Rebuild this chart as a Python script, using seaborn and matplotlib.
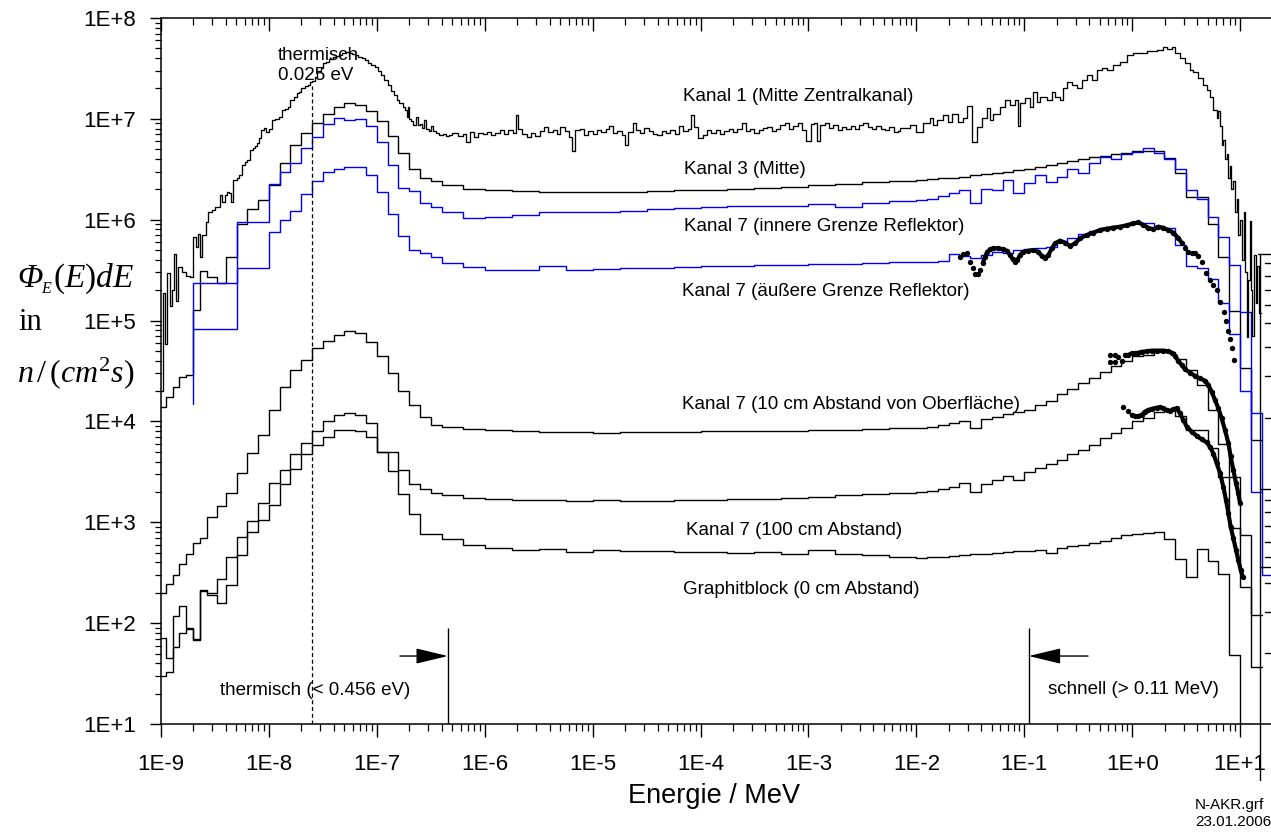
import numpy as np
import matplotlib
matplotlib.use("Agg")
import matplotlib.pyplot as plt
import seaborn as sns
from matplotlib.ticker import LogLocator, NullFormatter
from matplotlib.lines import Line2D

NA = float("nan")

# ---------------- data ----------------
# common group structure (log10 of energy in MeV), 80 groups
grp_log10_edges = [
    -9.00, -8.95, -8.89, -8.83, -8.77, -8.70, -8.64, -8.57, -8.48, -8.40,
    -8.30, -8.20, -8.10, -8.00, -7.90, -7.80, -7.70, -7.60, -7.50, -7.40,
    -7.30, -7.20, -7.10, -7.00, -6.90, -6.80, -6.70, -6.60, -6.50, -6.40,
    -6.20, -6.00, -5.75, -5.50, -5.25, -5.00, -4.75, -4.50, -4.25, -4.00,
    -3.75, -3.50, -3.25, -3.00, -2.75, -2.50, -2.25, -2.00, -1.90, -1.80,
    -1.70, -1.60, -1.50, -1.40, -1.30, -1.20, -1.10, -1.00, -0.90, -0.80,
    -0.70, -0.60, -0.50, -0.40, -0.30, -0.20, -0.10, 0.00, 0.10, 0.20,
    0.30, 0.40, 0.50, 0.60, 0.70, 0.80, 0.90, 1.00, 1.10, 1.20,
    1.30]

kanal3 = [
    1.4e4, 1.75e4, 2.2e4, 2.75e4, 2.9e4, 1.27e5, 3.1e5, 2.7e5, 2.37e5, 4.3e5,
    9.1e5, 1.29e6, 1.58e6, 2.2e6, 3.67e6, 5.5e6, 7.3e6, 9.2e6, 1.13e7, 1.32e7,
    1.42e7, 1.38e7, 1.2e7, 9.6e6, 6.8e6, 4.55e6, 3.2e6, 2.6e6, 2.4e6, 2.2e6,
    2.03e6, 1.95e6, 1.91e6, 1.89e6, 1.88e6, 1.88e6, 1.9e6, 1.92e6, 1.95e6, 1.98e6,
    2.02e6, 2.07e6, 2.13e6, 2.2e6, 2.28e6, 2.35e6, 2.42e6, 2.47e6, 2.52e6, 2.57e6,
    2.62e6, 2.68e6, 2.75e6, 2.82e6, 2.9e6, 3.0e6, 3.1e6, 3.2e6, 3.35e6, 3.5e6,
    3.65e6, 3.85e6, 4.0e6, 4.15e6, 4.3e6, 4.45e6, 4.6e6, 4.75e6, 4.85e6, 4.8e6,
    4.06e6, 2.88e6, 1.69e6, 1.69e6, 9.1e5, 4.3e5, 1.25e5, 3.4e4, 6.5e3, NA]

kanal7_innen_start = 8.2e4
kanal7_innen = [
    NA, NA, NA, NA, NA, 2.37e5, 2.37e5, 2.37e5, 2.37e5, 2.37e5,
    9.4e5, 9.4e5, 9.4e5, 2.28e6, 3.0e6, 3.67e6, 5.1e6, 6.6e6, 8.8e6, 1.03e7,
    9.8e6, 1.0e7, 8.4e6, 5.9e6, 3.47e6, 2.04e6, 1.94e6, 1.45e6, 1.35e6, 1.18e6,
    1.05e6, 1.07e6, 1.12e6, 1.18e6, 1.18e6, 1.2e6, 1.23e6, 1.29e6, 1.3e6, 1.35e6,
    1.37e6, 1.37e6, 1.38e6, 1.43e6, 1.33e6, 1.46e6, 1.55e6, 1.58e6, 1.6e6, 1.72e6,
    1.85e6, 1.97e6, 1.48e6, 2.0e6, 1.97e6, 2.48e6, 1.85e6, 2.33e6, 2.77e6, 2.38e6,
    2.67e6, 3.2e6, 2.93e6, 3.68e6, 4.17e6, 3.98e6, 4.5e6, 4.73e6, 5.1e6, 4.58e6,
    4.0e6, 3.16e6, 1.95e6, 1.6e6, 1.07e6, 6.8e5, 3.55e5, 1.23e5, 1.2e4, 3.0e2]

kanal7_aussen_start = 1.5e4
kanal7_aussen = [
    NA, NA, NA, NA, NA, 8.2e4, 8.2e4, 8.2e4, 8.2e4, 8.2e4,
    3.3e5, 3.3e5, 3.3e5, 7.6e5, 1.0e6, 1.22e6, 1.78e6, 2.4e6, 3.0e6, 3.16e6,
    3.3e6, 3.35e6, 2.77e6, 1.9e6, 1.14e6, 6.9e5, 5.0e5, 4.65e5, 4.3e5, 3.7e5,
    3.4e5, 3.15e5, 3.2e5, 3.5e5, 3.2e5, 3.25e5, 3.3e5, 3.35e5, 3.4e5, 3.47e5,
    3.5e5, 3.55e5, 3.55e5, 3.6e5, 3.65e5, 3.75e5, 3.85e5, 3.84e5, 3.84e5, 3.9e5,
    4.57e5, 4.4e5, 4.2e5, 4.5e5, 4.8e5, 4.65e5, 5.0e5, 5.1e5, 5.2e5, 5.4e5,
    6.0e5, 6.6e5, 7.2e5, 7.8e5, 8.3e5, 8.6e5, 8.9e5, 9.3e5, 9.3e5, 8.6e5,
    8.2e5, 5.6e5, 3.47e5, 3.3e5, 2.57e5, 1.5e5, 7.4e4, 2.0e4, 2.0e3, NA]

kanal7_10cm = [
    200, 245, 300, 390, 490, 630, 700, 1120, 1450, 1970,
    3060, 4900, 7350, 1.3e4, 2.2e4, 3.24e4, 4.1e4, 5.3e4, 6.3e4, 7.2e4,
    7.8e4, 7.5e4, 6.2e4, 4.45e4, 3.0e4, 2.0e4, 1.45e4, 1.1e4, 9.3e3, 8.8e3,
    8.4e3, 8.2e3, 8.0e3, 7.9e3, 7.8e3, 7.75e3, 7.8e3, 7.85e3, 7.9e3, 7.95e3,
    8.0e3, 8.05e3, 8.1e3, 8.2e3, 8.3e3, 8.4e3, 8.6e3, 8.7e3, 8.9e3, 9.2e3,
    9.6e3, 1.0e4, 8.6e3, 1.05e4, 1.1e4, 1.18e4, 1.25e4, 1.3e4, 1.45e4, 1.6e4,
    1.85e4, 2.08e4, 2.4e4, 2.7e4, 3.1e4, 3.56e4, 4.0e4, 4.46e4, 4.6e4, 4.9e4,
    4.9e4, 4.2e4, 3.2e4, 2.3e4, 1.3e4, 6.0e3, 2.8e3, 740, 120, NA]

kanal7_100cm = [
    71, 45, 117, 148, 90, 68, 214, 200, 275, 450,
    720, 1040, 1560, 2450, 3300, 4800, 6150, 8100, 1.0e4, 1.15e4,
    1.22e4, 1.15e4, 9.7e3, 5.0e3, 5.0e3, 3.3e3, 2.4e3, 2.13e3, 1.95e3, 1.85e3,
    1.75e3, 1.7e3, 1.68e3, 1.65e3, 1.64e3, 1.66e3, 1.62e3, 1.63e3, 1.65e3, 1.67e3,
    1.7e3, 1.72e3, 1.76e3, 1.8e3, 1.85e3, 1.9e3, 1.97e3, 2.0e3, 2.05e3, 2.12e3,
    2.23e3, 2.48e3, 2.0e3, 2.4e3, 2.63e3, 2.9e3, 2.63e3, 3.18e3, 3.43e3, 3.8e3,
    4.1e3, 4.75e3, 5.2e3, 5.85e3, 6.8e3, 7.75e3, 8.6e3, 1.02e4, 1.08e4, 1.25e4,
    1.3e4, 1.12e4, 8.2e3, 8.2e3, 5.4e3, 2.8e3, 870, 230, 37, NA]

graphitblock = [
    30, 33, 58, 80, 88, 70, 210, 190, 160, 240,
    470, 800, 1050, 1500, 2400, 3400, 4800, 5800, 7000, 8300,
    8300, 8000, 7000, 5000, 3200, 1900, 1200, 760, 760, 680,
    600, 560, 530, 540, 510, 530, 520, 515, 510, 505,
    500, 505, 490, 530, 490, 470, 455, 445, 450, 455,
    460, 470, 480, 490, 500, 505, 515, 525, 530, 495,
    560, 580, 600, 620, 650, 700, 740, 770, 790, 800,
    690, 430, 290, 540, 415, 310, 48, 10, NA, NA]

# Kanal 1: fine group spectrum, (log10 E lower edge, flux)
kanal1_points = [
    (-9.00, 2.0e4), (-8.98, 1.86e5), (-8.96, 5.9e4), (-8.94, 2.95e5), (-8.92, 1.38e5),
    (-8.90, 2.0e5), (-8.88, 4.6e5), (-8.86, 1.58e5), (-8.84, 3.4e5), (-8.81, 3.0e5),
    (-8.77, 2.75e5), (-8.73, 2.7e5),
    (-8.70, 6.8e5), (-8.675, 5.4e5), (-8.655, 7.2e5), (-8.64, 4.3e5), (-8.62, 7.0e5),
    (-8.585, 9.5e5), (-8.56, 1.2e6), (-8.53, 1.25e6), (-8.50, 1.35e6), (-8.47, 1.35e6),
    (-8.45, 1.76e6), (-8.435, 1.5e6), (-8.41, 1.76e6), (-8.39, 1.9e6), (-8.37, 1.85e6),
    (-8.355, 1.5e6), (-8.33, 2.48e6), (-8.30, 2.6e6), (-8.28, 2.77e6), (-8.25, 3.47e6),
    (-8.22, 3.76e6), (-8.20, 3.9e6), (-8.175, 4.9e6), (-8.15, 5.2e6), (-8.13, 5.4e6),
    (-8.11, 5.7e6), (-8.09, 6.4e6), (-8.07, 7.75e6), (-8.05, 8.06e6), (-8.03, 7.46e6),
    (-8.00, 8.0e6), (-7.97, 9.8e6), (-7.94, 1.0e7), (-7.91, 1.05e7), (-7.88, 1.22e7),
    (-7.85, 1.25e7), (-7.82, 1.32e7), (-7.80, 1.54e7), (-7.77, 1.65e7), (-7.74, 1.79e7),
    (-7.72, 1.85e7), (-7.70, 2.0e7), (-7.67, 2.1e7), (-7.64, 2.17e7), (-7.62, 2.34e7),
    (-7.60, 2.4e7), (-7.57, 2.6e7),
    (-7.55, 2.95e7), (-7.52, 3.2e7), (-7.50, 3.55e7), (-7.47, 3.7e7), (-7.44, 3.9e7),
    (-7.41, 4.07e7), (-7.38, 4.2e7), (-7.35, 4.3e7), (-7.32, 4.5e7), (-7.29, 4.64e7),
    (-7.26, 4.5e7), (-7.23, 4.4e7), (-7.20, 4.3e7), (-7.17, 4.14e7), (-7.14, 4.0e7),
    (-7.11, 3.8e7), (-7.08, 3.55e7), (-7.05, 3.45e7), (-7.02, 3.29e7), (-6.99, 3.0e7),
    (-6.96, 2.72e7), (-6.93, 2.45e7), (-6.90, 2.17e7), (-6.87, 1.9e7), (-6.84, 1.73e7),
    (-6.81, 1.55e7), (-6.79, 1.43e7), (-6.76, 1.32e7), (-6.74, 1.22e7), (-6.72, 1.05e7),
    (-6.71, 1.3e7), (-6.70, 1.0e7), (-6.68, 9.5e6), (-6.66, 8.7e6), (-6.64, 1.05e7),
    (-6.62, 8.7e6), (-6.60, 8.8e6), (-6.58, 8.2e6), (-6.56, 9.8e6), (-6.54, 8.0e6),
    (-6.52, 7.5e6), (-6.50, 8.5e6), (-6.48, 7.6e6), (-6.45, 7.3e6), (-6.42, 6.9e6),
    (-6.39, 7.0e6), (-6.36, 6.7e6), (-6.33, 6.9e6),
    (-6.30, 7.2e6), (-6.25, 6.7e6), (-6.20, 7.1e6), (-6.17, 5.95e6), (-6.14, 7.4e6),
    (-6.10, 6.6e6), (-6.06, 7.3e6), (-6.02, 7.0e6), (-5.98, 7.4e6), (-5.94, 6.9e6),
    (-5.90, 7.3e6), (-5.86, 7.7e6), (-5.82, 7.1e6), (-5.78, 7.8e6), (-5.74, 7.3e6),
    (-5.71, 1.1e7), (-5.69, 8.0e6), (-5.65, 7.0e6), (-5.61, 6.6e6), (-5.57, 7.3e6),
    (-5.53, 6.8e6), (-5.49, 7.6e6), (-5.45, 8.3e6), (-5.41, 7.4e6), (-5.37, 7.8e6),
    (-5.33, 7.0e6), (-5.30, 8.3e6), (-5.26, 7.6e6), (-5.22, 6.6e6), (-5.19, 4.8e6),
    (-5.16, 7.7e6), (-5.12, 8.0e6), (-5.08, 6.9e6), (-5.04, 7.5e6), (-5.00, 7.0e6),
    (-4.96, 7.8e6), (-4.92, 7.4e6), (-4.88, 8.0e6), (-4.85, 8.4e6), (-4.81, 7.2e6),
    (-4.77, 7.6e6), (-4.73, 6.9e6), (-4.70, 5.5e6), (-4.67, 7.4e6), (-4.63, 9.0e6),
    (-4.60, 7.8e6), (-4.56, 7.2e6), (-4.52, 8.2e6), (-4.48, 7.5e6), (-4.44, 7.0e6),
    (-4.40, 6.9e6), (-4.36, 7.6e6), (-4.32, 7.3e6), (-4.28, 7.8e6), (-4.24, 7.1e6),
    (-4.20, 8.4e6), (-4.16, 7.6e6), (-4.12, 8.0e6), (-4.09, 1.08e7), (-4.06, 8.3e6),
    (-4.02, 6.4e6), (-3.98, 6.9e6), (-3.94, 7.7e6), (-3.90, 7.2e6), (-3.86, 7.8e6),
    (-3.82, 7.0e6), (-3.78, 7.5e6), (-3.74, 8.0e6), (-3.70, 7.4e6), (-3.66, 7.9e6),
    (-3.62, 9.0e6), (-3.58, 7.6e6), (-3.54, 7.9e6), (-3.50, 7.3e6), (-3.46, 7.7e6),
    (-3.42, 8.2e6), (-3.38, 8.35e6), (-3.34, 7.5e6), (-3.30, 8.0e6), (-3.26, 8.6e6),
    (-3.22, 9.0e6), (-3.18, 8.0e6), (-3.14, 8.4e6), (-3.10, 9.0e6), (-3.06, 7.8e6),
    (-3.02, 6.0e6), (-2.98, 8.9e6), (-2.95, 9.2e6), (-2.92, 6.0e6), (-2.89, 8.6e6),
    (-2.85, 9.2e6), (-2.81, 8.2e6), (-2.77, 8.6e6), (-2.73, 7.8e6), (-2.69, 8.3e6),
    (-2.65, 8.0e6), (-2.61, 8.4e6), (-2.57, 8.0e6), (-2.53, 8.6e6), (-2.49, 9.0e6),
    (-2.45, 8.3e6), (-2.41, 8.0e6), (-2.37, 8.5e6), (-2.33, 8.0e6), (-2.29, 7.8e6),
    (-2.25, 8.3e6), (-2.21, 7.4e6), (-2.17, 7.6e6),
    (-2.15, 8.05e6), (-2.06, 8.7e6), (-2.00, 7.46e6), (-1.935, 9.0e6), (-1.873, 1.01e7),
    (-1.842, 8.7e6), (-1.811, 9.75e6), (-1.75, 1.09e7), (-1.703, 9.4e6), (-1.672, 1.13e7),
    (-1.61, 9.4e6), (-1.564, 1.01e7), (-1.533, 1.34e7), (-1.487, 5.94e6), (-1.44, 8.37e6),
    (-1.394, 1.01e7), (-1.348, 1.27e7), (-1.317, 9.75e6), (-1.286, 1.13e7), (-1.224, 1.32e7),
    (-1.178, 1.54e7), (-1.131, 1.37e7), (-1.085, 1.54e7), (-1.054, 8.5e6), (-1.039, 1.43e7),
    (-0.992, 1.6e7), (-0.946, 1.32e7), (-0.915, 1.86e7), (-0.884, 1.48e7), (-0.853, 1.66e7),
    (-0.791, 1.54e7), (-0.745, 1.86e7), (-0.714, 1.66e7), (-0.668, 1.54e7), (-0.637, 2.01e7),
    (-0.606, 2.34e7), (-0.56, 2.17e7), (-0.513, 2.01e7), (-0.467, 2.43e7), (-0.421, 2.72e7),
    (-0.374, 2.43e7), (-0.328, 3.05e7), (-0.282, 3.17e7), (-0.235, 3.05e7), (-0.173, 3.42e7),
    (-0.112, 3.69e7), (-0.05, 4.3e7), (0.012, 4.47e7), (0.136, 4.75e7), (0.228, 4.82e7),
    (0.29, 5.2e7), (0.321, 4.9e7), (0.367, 5.13e7), (0.398, 4.47e7), (0.445, 3.98e7),
    (0.491, 3.55e7), (0.537, 3.05e7), (0.568, 2.94e7), (0.615, 2.52e7), (0.661, 2.17e7),
    (0.692, 1.93e7), (0.723, 1.66e7), (0.754, 1.22e7), (0.785, 1.01e7), (0.80, 1.2e7),
    (0.816, 8.4e6), (0.83, 5.5e6), (0.846, 6.2e6), (0.86, 4.0e6), (0.877, 4.5e6),
    (0.89, 2.6e6), (0.908, 3.4e6), (0.92, 2.0e6), (0.939, 2.4e6), (0.955, 1.2e6),
    (0.97, 1.6e6), (0.985, 7.0e5), (1.0, 1.0e6), (1.02, 4.0e5), (1.035, 1.2e6),
    (1.05, 3.0e5), (1.06, 6.9e4), (1.075, 2.5e5), (1.09, 9.8e5), (1.10, 2.0e5),
    (1.115, 7.0e4), (1.13, 4.5e5), (1.145, 1.5e5), (1.16, 3.5e5), (1.175, 1.2e5)]
kanal1_upper_edge = 1.19

# measured points (log10 E, flux)
mess_aussen = [
    (-1.595, 4.3e5), (-1.564, 4.57e5), (-1.533, 4.64e5), (-1.502, 3.84e5), (-1.477, 3.3e5),
    (-1.456, 2.9e5), (-1.431, 2.9e5), (-1.409, 3.17e5), (-1.385, 3.7e5), (-1.363, 4.3e5),
    (-1.341, 4.82e5), (-1.317, 5.08e5), (-1.286, 5.2e5), (-1.239, 5.2e5), (-1.193, 5.08e5),
    (-1.162, 4.93e5), (-1.131, 4.47e5), (-1.107, 4.05e5), (-1.085, 3.84e5), (-1.063, 3.99e5),
    (-1.039, 4.47e5), (-1.008, 4.82e5), (-0.961, 4.93e5), (-0.915, 5.0e5), (-0.869, 4.82e5),
    (-0.838, 4.37e5), (-0.807, 4.14e5), (-0.776, 4.47e5), (-0.745, 5.2e5), (-0.714, 5.83e5),
    (-0.668, 6.2e5), (-0.621, 5.92e5), (-0.575, 5.48e5), (-0.529, 5.83e5), (-0.482, 6.53e5),
    (-0.421, 7.05e5), (-0.359, 7.45e5), (-0.297, 7.9e5), (-0.235, 8.15e5), (-0.173, 8.34e5),
    (-0.112, 8.53e5), (-0.05, 8.8e5), (0.012, 9.2e5), (0.058, 9.4e5), (0.105, 8.87e5),
    (0.151, 8.28e5), (0.197, 8.04e5), (0.244, 8.53e5), (0.29, 8.28e5), (0.336, 7.9e5),
    (0.383, 7.45e5), (0.429, 6.53e5), (0.46, 5.92e5), (0.491, 5.2e5), (0.522, 4.82e5),
    (0.553, 4.64e5), (0.584, 4.64e5), (0.615, 4.37e5), (0.646, 3.84e5), (0.685, 2.94e5),
    (0.72, 2.52e5), (0.753, 2.24e5), (0.785, 2.0e5), (0.816, 1.54e5), (0.847, 1.22e5),
    (0.871, 9.8e4), (0.884, 7.8e4), (0.908, 6.5e4), (0.93, 5.3e4), (0.948, 4.1e4)]
mess_aussen_dense = (-1.385, 0.46)

mess_10cm = [
    (-0.205, 3.92e4), (-0.205, 4.56e4), (-0.158, 3.92e4), (-0.158, 4.56e4), (-0.128, 4.39e4),
    (-0.097, 4.0e4), (-0.066, 4.56e4), (-0.035, 4.56e4), (-0.004, 4.73e4), (0.027, 4.73e4),
    (0.058, 4.81e4), (0.088, 4.89e4), (0.135, 4.96e4), (0.181, 5.04e4), (0.227, 5.04e4),
    (0.289, 5.04e4), (0.336, 4.96e4), (0.367, 4.81e4), (0.398, 4.46e4), (0.428, 4.0e4),
    (0.459, 3.63e4), (0.49, 3.29e4), (0.536, 3.05e4), (0.583, 2.82e4), (0.629, 2.67e4),
    (0.675, 2.54e4), (0.706, 2.3e4), (0.737, 1.97e4), (0.768, 1.63e4), (0.799, 1.35e4),
    (0.83, 1.07e4), (0.861, 8.2e3), (0.892, 6.1e3), (0.913, 4.5e3), (0.938, 3.3e3),
    (0.963, 2.43e3), (0.984, 1.94e3), (1.0, 1.54e3)]
mess_10cm_dense = (-0.066, 1.0)

mess_100cm = [
    (-0.081, 1.38e4), (-0.035, 1.28e4), (-0.004, 1.16e4), (0.027, 1.13e4), (0.058, 1.13e4),
    (0.088, 1.16e4), (0.119, 1.25e4), (0.15, 1.3e4), (0.181, 1.33e4), (0.227, 1.37e4),
    (0.258, 1.38e4), (0.289, 1.35e4), (0.32, 1.3e4), (0.351, 1.27e4), (0.382, 1.32e4),
    (0.413, 1.35e4), (0.444, 1.2e4), (0.475, 1.03e4), (0.506, 8.9e3), (0.552, 7.9e3),
    (0.598, 7.2e3), (0.645, 6.65e3), (0.691, 6.2e3), (0.722, 5.6e3), (0.753, 4.8e3),
    (0.784, 3.85e3), (0.815, 3.06e3), (0.845, 2.25e3), (0.87, 1.66e3), (0.892, 1.23e3),
    (0.913, 906), (0.938, 693), (0.963, 531), (0.984, 423), (1.006, 337), (1.025, 289)]
mess_100cm_dense = (-0.004, 1.1)

# reference energies (MeV)
E_THERMAL_PEAK = 0.0253e-6
E_THERMAL_LIMIT = 0.456e-6
E_FAST_LIMIT = 0.11

x_ticks = [1e-9, 1e-8, 1e-7, 1e-6, 1e-5, 1e-4, 1e-3, 1e-2, 1e-1, 1e0, 1e1]
x_tick_labels = ["1E-9", "1E-8", "1E-7", "1E-6", "1E-5", "1E-4", "1E-3",
                 "1E-2", "1E-1", "1E+0", "1E+1"]
y_ticks = [1e1, 1e2, 1e3, 1e4, 1e5, 1e6, 1e7, 1e8]
y_tick_labels = ["1E+1", "1E+2", "1E+3", "1E+4", "1E+5", "1E+6", "1E+7", "1E+8"]

# ---------------- style ----------------
sns.set_theme(style="ticks")
plt.rcParams["font.family"] = ["Liberation Sans", "DejaVu Sans"]
plt.rcParams["mathtext.fontset"] = "custom"
plt.rcParams["mathtext.rm"] = "Liberation Serif"
plt.rcParams["mathtext.it"] = "Liberation Serif:italic"
plt.rcParams["mathtext.bf"] = "Liberation Serif:bold"
plt.rcParams["axes.edgecolor"] = "black"
plt.rcParams["xtick.color"] = "black"
plt.rcParams["ytick.color"] = "black"
plt.rcParams["text.color"] = "black"

W, H = 1271, 835
fig = plt.figure(figsize=(W / 100, H / 100), dpi=100)
ax = fig.add_axes([161 / W, (H - 724) / H, (W - 161) / W, (724 - 18) / H])
ax.set_xscale("log")
ax.set_yscale("log")

BLUE = "#0000ff"
edges = 10 ** np.asarray(grp_log10_edges)


def group_steps(vals, start=None):
    v = np.asarray(vals, dtype=float)
    idx = np.where(~np.isnan(v))[0]
    i0, i1 = idx[0], idx[-1]
    xs = list(edges[i0:i1 + 2])
    ys = list(v[i0:i1 + 1]) + [v[i1]]
    if start is not None:
        xs = [xs[0]] + xs
        ys = [start] + ys
    return xs, ys


def draw_steps(xs, ys, color, lw=1.0, z=2):
    sns.lineplot(x=xs, y=ys, drawstyle="steps-post", estimator=None, sort=False,
                 color=color, linewidth=lw, ax=ax, zorder=z)


for vals in [graphitblock, kanal7_100cm, kanal7_10cm, kanal3]:
    xs, ys = group_steps(vals)
    draw_steps(xs, ys, "black")

xs, ys = group_steps(kanal7_aussen, kanal7_aussen_start)
draw_steps(xs, ys, BLUE)
xs, ys = group_steps(kanal7_innen, kanal7_innen_start)
draw_steps(xs, ys, BLUE)

k1x = [10 ** p[0] for p in kanal1_points] + [10 ** kanal1_upper_edge]
k1y = [p[1] for p in kanal1_points] + [kanal1_points[-1][1]]
draw_steps(k1x, k1y, "black", lw=0.95, z=3)

for pts, (d0, d1) in [(mess_aussen, mess_aussen_dense),
                      (mess_10cm, mess_10cm_dense),
                      (mess_100cm, mess_100cm_dense)]:
    px = [10 ** p[0] for p in pts]
    py = [p[1] for p in pts]
    dx = [10 ** p[0] for p in pts if d0 <= p[0] <= d1]
    dy = [p[1] for p in pts if d0 <= p[0] <= d1]
    sns.lineplot(x=dx, y=dy, estimator=None, sort=False, color="black",
                 linewidth=3.0, ax=ax, zorder=5)
    sns.scatterplot(x=px, y=py, color="black", s=15, linewidth=0, ax=ax, zorder=6)

# reference lines & arrows
ax.vlines(E_THERMAL_PEAK, 10, 2.1e7, colors="black", linestyles=(0, (3.2, 2.2)),
          linewidth=0.9, zorder=4)
ax.vlines([E_THERMAL_LIMIT, E_FAST_LIMIT], 10, 90, colors="black", linewidth=1.0, zorder=4)
arrow = dict(arrowstyle="-|>,head_length=2.0,head_width=0.48", mutation_scale=10,
             color="black", lw=1.0, shrinkA=0, shrinkB=0)
ax.annotate("", xy=(E_THERMAL_LIMIT, 47.2), xytext=(1.64e-7, 47.2), arrowprops=arrow)
ax.annotate("", xy=(E_FAST_LIMIT, 47.2), xytext=(0.39, 47.2), arrowprops=arrow)

# axes
ax.set_xlim(1e-9, 10 ** 1.287)
ax.set_ylim(10, 1e8)
ax.set_xticks(x_ticks)
ax.set_xticklabels(x_tick_labels)
ax.set_yticks(y_ticks)
ax.set_yticklabels(y_tick_labels)
ax.xaxis.set_minor_locator(LogLocator(base=10, subs=np.arange(2, 10), numticks=100))
ax.yaxis.set_minor_locator(LogLocator(base=10, subs=np.arange(2, 10), numticks=100))
ax.xaxis.set_minor_formatter(NullFormatter())
ax.yaxis.set_minor_formatter(NullFormatter())
ax.tick_params(axis="x", which="major", direction="out", length=9.4, width=1.0,
               labelsize=16, pad=12, bottom=True, top=False)
ax.tick_params(axis="x", which="minor", direction="out", length=5.2, width=0.9,
               bottom=True, top=False)
ax.tick_params(axis="y", which="major", direction="out", length=7.9, width=1.0,
               labelsize=16, pad=10, left=True, right=False)
ax.tick_params(axis="y", which="minor", direction="out", length=4.6, width=0.9,
               left=True, right=False)
ax.spines["right"].set_visible(False)
for s in ["left", "top", "bottom"]:
    ax.spines[s].set_linewidth(1.1)
    ax.spines[s].set_color("black")
ax.set_xlabel("")
ax.set_ylabel("")

ax2 = ax.twiny()
ax2.set_xscale("log")
ax2.set_xlim(ax.get_xlim())
ax2.set_xticks(x_ticks)
ax2.set_xticklabels([])
ax2.xaxis.set_minor_locator(LogLocator(base=10, subs=np.arange(2, 10), numticks=100))
ax2.xaxis.set_minor_formatter(NullFormatter())
ax2.tick_params(axis="x", which="major", direction="in", length=9.4, width=1.0, top=True)
ax2.tick_params(axis="x", which="minor", direction="in", length=5.0, width=0.9, top=True)
for s in ax2.spines.values():
    s.set_visible(False)


def fx(x):
    return x / W


def fy(y):
    return 1 - y / H


labels = [
    ("Kanal 1 (Mitte Zentralkanal)", 683, 96.7),
    ("Kanal 3 (Mitte)", 684, 170),
    ("Kanal 7 (innere Grenze Reflektor)", 684, 226.7),
    ("Kanal 7 (äußere Grenze Reflektor)", 681.7, 291.7),
    ("Kanal 7 (10 cm Abstand von Oberfläche)", 681.7, 405),
    ("Kanal 7 (100 cm Abstand)", 685.7, 530.7),
    ("Graphitblock (0 cm Abstand)", 682.7, 589.3),
    ("thermisch", 278, 55),
    ("0.025 eV", 278, 76),
    ("thermisch (< 0.456 eV)", 220, 690.7),
    ("schnell (> 0.11 MeV)", 1048, 690),
]
for txt, x, y in labels:
    fig.text(fx(x), fy(y), txt, fontsize=13.5, ha="left", va="center")

fig.text(fx(714), fy(796), "Energie / MeV", fontsize=19.5, ha="center", va="center")
fig.text(fx(1195), fy(805), "N-AKR.grf", fontsize=11, ha="left", va="center")
fig.text(fx(1195), fy(822), "23.01.2006", fontsize=11, ha="left", va="center")

# y axis title, three lines in a serif face
SERIF = ["Liberation Serif", "DejaVu Serif"]
fig.text(fx(17), fy(287), "Φ", family=SERIF, style="italic", fontsize=24,
         ha="left", va="baseline")
fig.text(fx(41), fy(293), "E", family=SERIF, style="italic", fontsize=11.5,
         ha="left", va="baseline")
fig.text(fx(53), fy(287), r"$(E)dE$", fontsize=24, ha="left", va="baseline")
fig.text(fx(18), fy(330), "in", family=SERIF, fontsize=22, ha="left", va="baseline")
fig.text(fx(17), fy(382), r"$n\,/\,(cm^{2}s)$", fontsize=23, ha="left", va="baseline")

# partial frame of a neighbouring plot at the right edge
frame = [((1260, 254), (1260, 780)), ((1258, 254), (1271, 254)),
         ((1260, 489), (1271, 489)), ((1260, 567), (1271, 567))]
for y in [263, 276, 290, 305, 323, 347, 376, 418, 500, 512, 526, 542, 557, 583, 612, 653]:
    frame.append(((1265, y), (1271, y)))
for (x0, y0), (x1, y1) in frame:
    fig.add_artist(Line2D([fx(x0), fx(x1)], [fy(y0), fy(y1)], transform=fig.transFigure,
                          color="black", linewidth=1.0))

fig.savefig("out.png", dpi=100)
